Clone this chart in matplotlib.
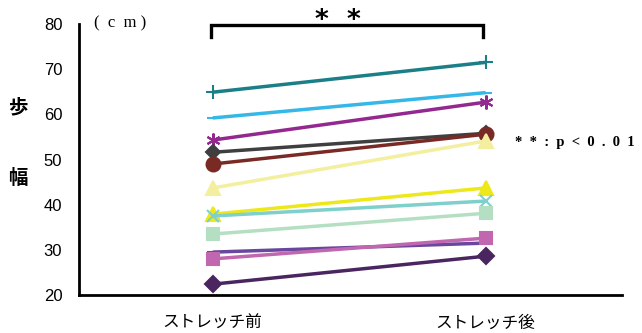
import matplotlib
matplotlib.use('Agg')
from matplotlib import pyplot as plt

plt.rcParams['font.family'] = ['Liberation Sans', 'Noto Sans CJK JP', 'DejaVu Sans']

# step length (cm) for each subject, before / after stretching
LABELS = ['ストレッチ前', 'ストレッチ後']
BEFORE = [64.9, 59.2, 54.3, 51.6, 49.0, 43.7, 37.9, 37.5, 33.5, 29.5, 28.0, 22.4]
AFTER = [71.5, 64.8, 62.7, 55.8, 55.6, 54.1, 43.7, 40.8, 38.1, 31.5, 32.6, 28.6]

COLORS = ['#1b7f87', '#35b8e8', '#93288f', '#3f3f3f', '#7a2a25', '#f3ef9e',
          '#ede81a', '#7fd0cc', '#b5dfc2', '#6a479e', '#c067b0', '#4a2560']
MARKERS = ['+', '_', (6, 2, 0), 'D', 'o', '^', '^', 'x', 's', '_', 's', 'D']
SIZES = [10, 9, 10, 7, 10, 10, 10, 8, 9, 9, 9, 8]


def main():
	fig = plt.figure(figsize=(6.42, 3.33), dpi=100)
	ax = fig.add_axes([0.123, 0.114, 0.846, 0.814])

	x = [0, 1]
	for b, a, c, m, s in zip(BEFORE, AFTER, COLORS, MARKERS, SIZES):
		ax.plot(x, [b, a], color=c, lw=2.5, marker=m, markersize=s,
				markeredgewidth=1.5, markeredgecolor=c, solid_capstyle='butt')

	ax.set_xlim(-0.49, 1.5)
	ax.set_ylim(20, 80)
	ax.set_yticks(range(20, 81, 10))
	ax.set_xticks(x)
	ax.set_xticklabels(LABELS, fontsize=13, family=['Noto Sans CJK JP'])
	ax.tick_params(axis='both', length=0, labelsize=12)
	ax.tick_params(axis='x', pad=14)
	ax.tick_params(axis='y', pad=12)
	for side in ('top', 'right'):
		ax.spines[side].set_visible(False)
	for side in ('left', 'bottom'):
		ax.spines[side].set_linewidth(2)

	# y label, one character per line
	fig.text(0.028, 0.675, '歩', fontsize=14, fontweight='bold',
			 family=['Noto Sans CJK JP'], ha='center', va='center')
	fig.text(0.028, 0.465, '幅', fontsize=14, fontweight='bold',
			 family=['Noto Sans CJK JP'], ha='center', va='center')
	fig.text(0.146, 0.93, '(  c  m )', fontsize=12, family=['Liberation Serif'],
			 ha='left', va='center')

	# significance bracket
	ax.plot([-0.005, -0.005, 0.99, 0.99], [77.2, 79.8, 79.8, 77.2], color='black',
			lw=2.4, clip_on=False, solid_joinstyle='miter')
	ax.text(0.46, 80.7, '*  *', fontsize=19, fontweight='bold',
			family=['DejaVu Sans'], ha='center', va='center', clip_on=False)
	fig.text(0.802, 0.572, '*  *  :  p  <  0  .  0  1', fontsize=10.5, fontweight='bold',
			 family=['Liberation Serif'], ha='left', va='center')

	fig.savefig('out.png', dpi=100)


if __name__ == '__main__':
	main()
